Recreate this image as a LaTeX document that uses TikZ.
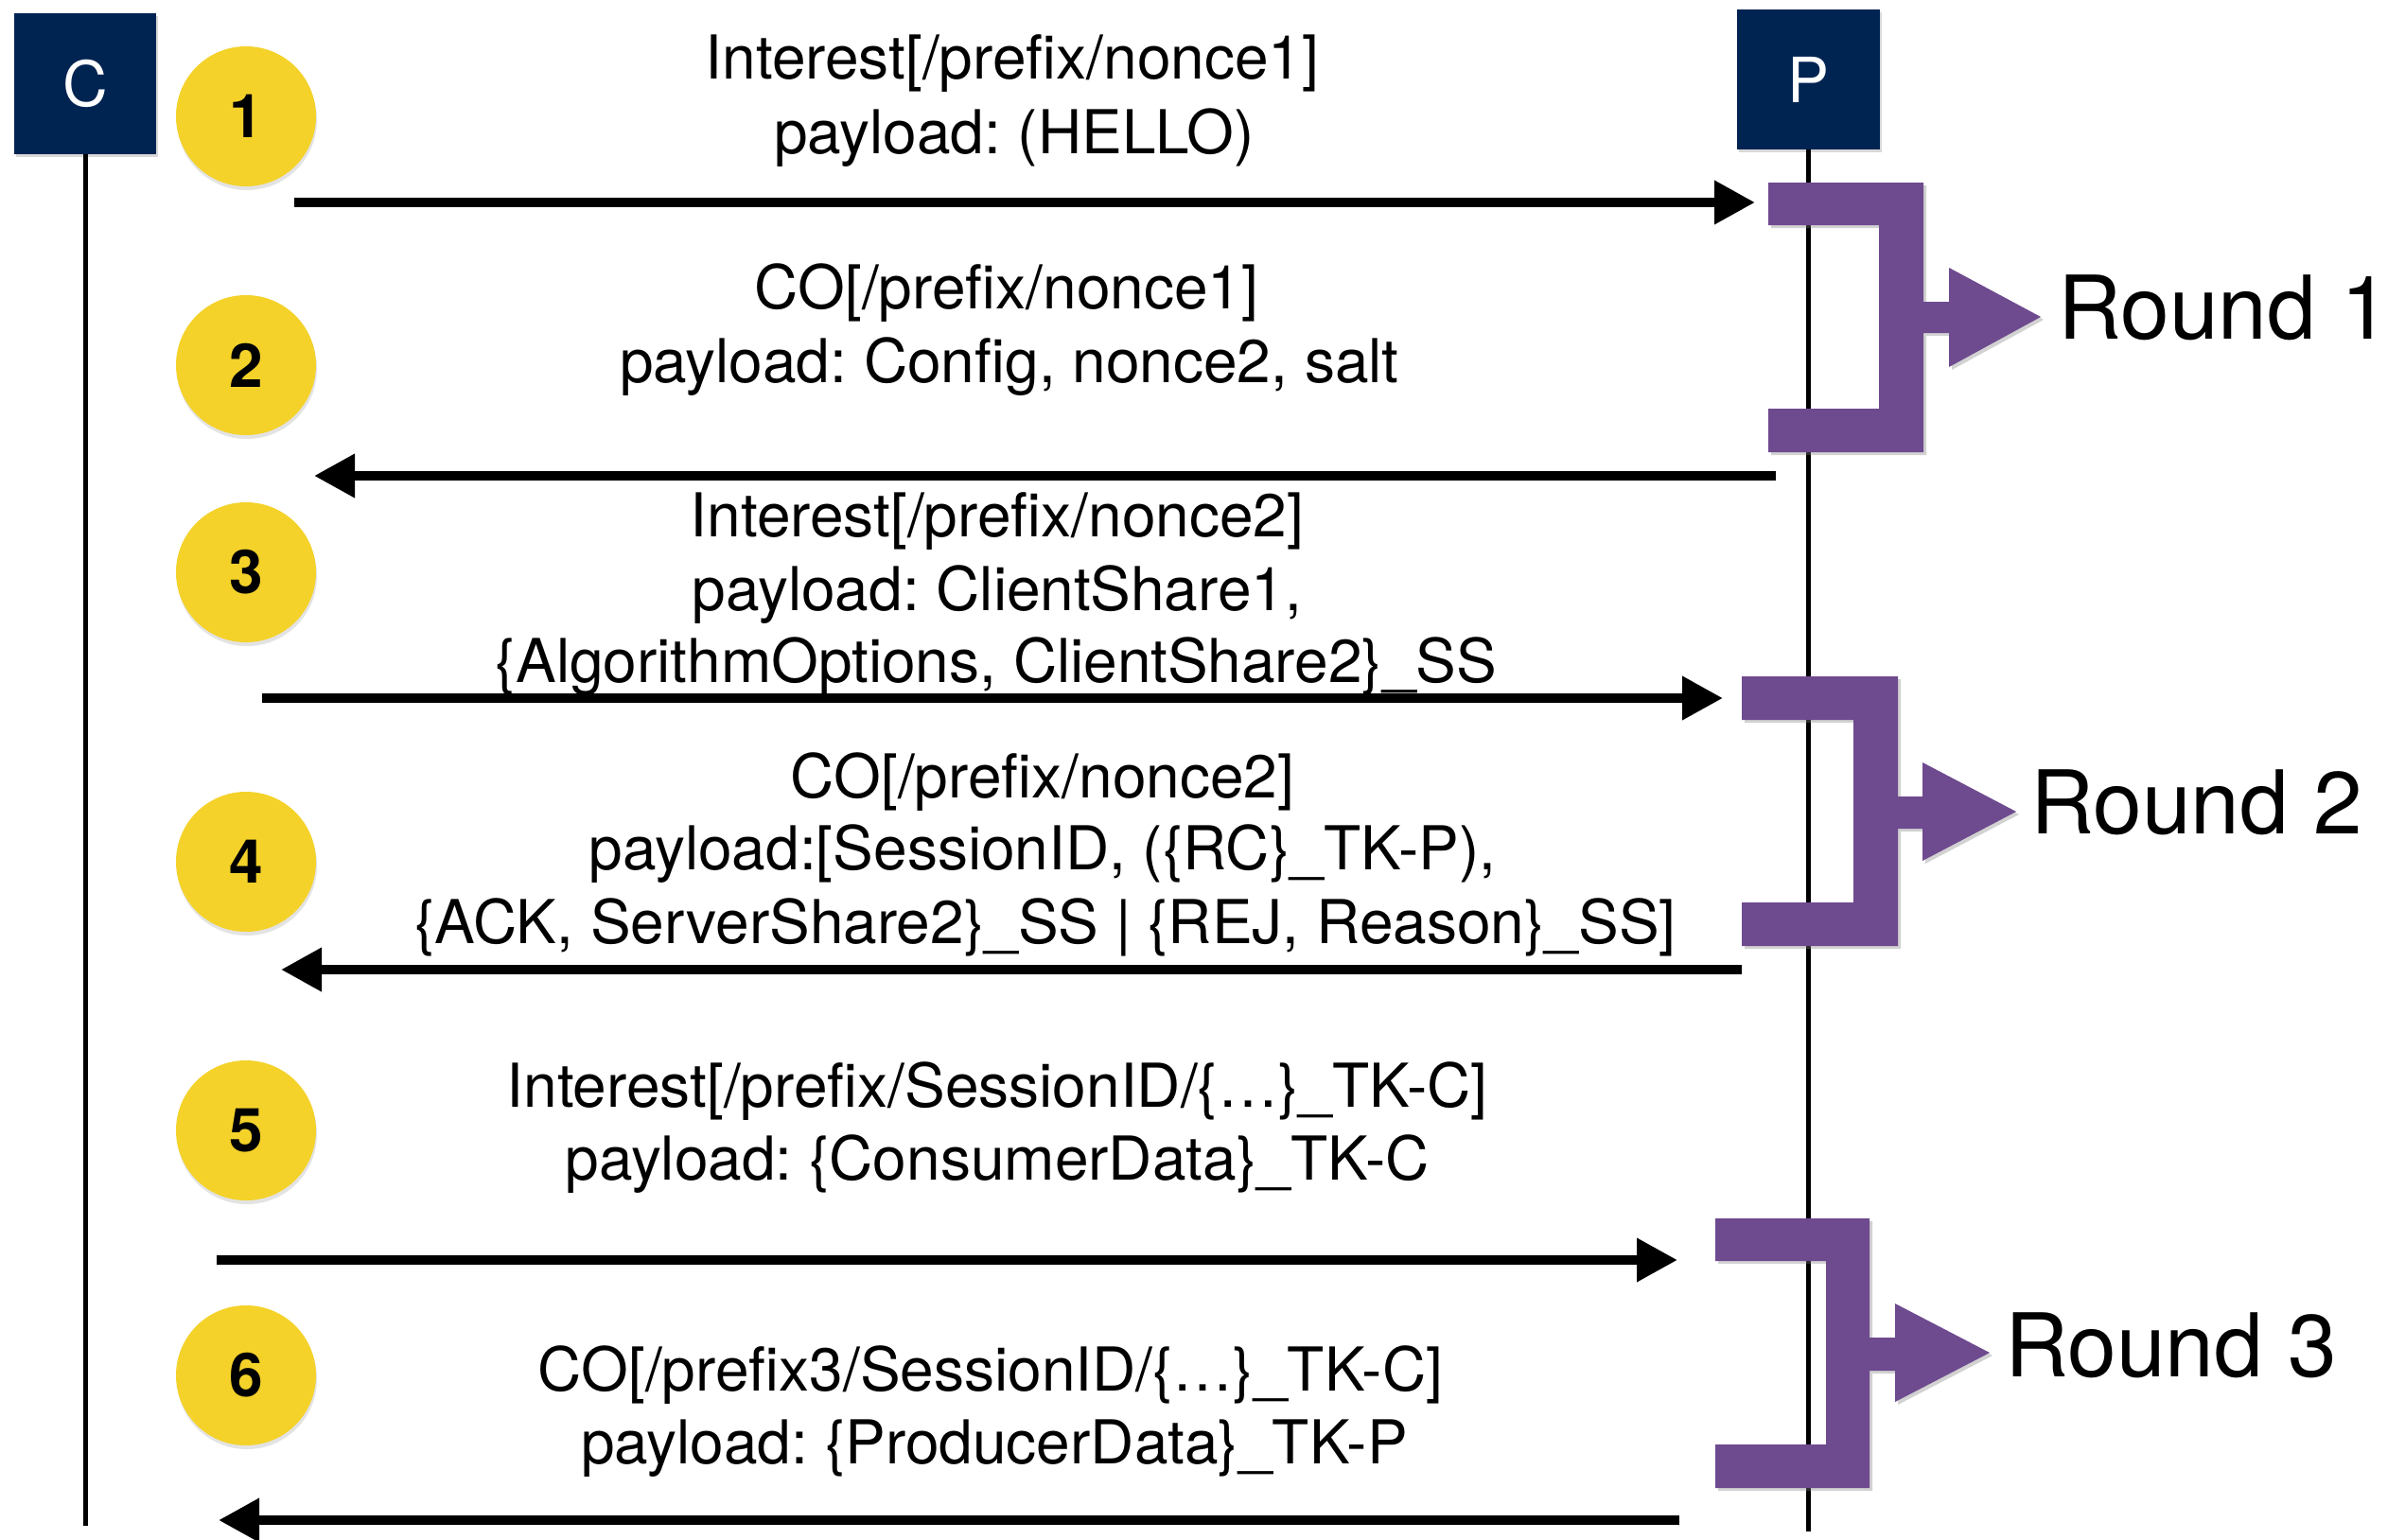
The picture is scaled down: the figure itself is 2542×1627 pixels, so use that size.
\documentclass[tikz,border=0pt]{standalone}
\usepackage{fontspec}
\setmainfont{TeX Gyre Heros}
\usetikzlibrary{arrows.meta,shadows}
\definecolor{navy}{RGB}{0,36,82}
\definecolor{gold}{RGB}{244,210,42}
\definecolor{grape}{RGB}{110,74,143}
\frenchspacing
\tikzset{
  actorbox/.style={rectangle, fill=navy, text=white, minimum width=150pt, minimum height=149pt, inner sep=0pt,
    font=\fontsize{66}{70}\selectfont,
    drop shadow={shadow xshift=2pt, shadow yshift=-3pt, opacity=0.3}},
  numdot/.style={circle, fill=gold, minimum size=148pt, inner sep=0pt,
    font=\fontsize{64}{70}\selectfont\bfseries,
    drop shadow={shadow xshift=1pt, shadow yshift=-4pt, opacity=0.22}},
  lifeline/.style={line width=5pt, black},
  msgline/.style={line width=10pt, black, -{Triangle[length=43pt,width=44pt]}},
  msgtext/.style={anchor=base, inner sep=0pt, font=\fontsize{64}{78}\selectfont},
  roundlbl/.style={anchor=base west, inner sep=0pt, font=\fontsize{93}{110}\selectfont},
  bracketfill/.style={fill=grape, drop shadow={shadow xshift=3pt, shadow yshift=-3pt, opacity=0.35}}
}
\begin{document}
\begin{tikzpicture}[x=1pt, y=-1pt]
\useasboundingbox (0,0) rectangle (2542,1627);
\fill[white] (0,0) rectangle (2542,1627);

% actors
\node[actorbox] (C) at (90,88.5) {C};
\node[actorbox, minimum width=151pt, minimum height=148pt] (P) at (1911,84) {P};

% lifelines
\coordinate (Cend) at (90,1613);
\coordinate (Pend) at (1911,1619);
\draw[lifeline] (C.south) -- (Cend);
\draw[lifeline] (P.south) -- (Pend);

% round brackets
\fill[bracketfill] (1869,193) -- (2033,193) -- (2033,319) -- (2060,319) -- (2060,283) -- (2157,335)
  -- (2060,388) -- (2060,352) -- (2033,352) -- (2033,478) -- (1869,478) -- (1869,432)
  -- (1986,432) -- (1986,238) -- (1869,238) -- cycle;
\fill[bracketfill] (1841,715) -- (2006,715) -- (2006,842) -- (2032,842) -- (2032,806) -- (2131,858)
  -- (2032,910) -- (2032,876) -- (2006,876) -- (2006,1000) -- (1841,1000) -- (1841,954)
  -- (1959,954) -- (1959,761) -- (1841,761) -- cycle;
\fill[bracketfill] (1813,1288) -- (1976,1288) -- (1976,1414) -- (2003,1414) -- (2003,1378) -- (2103,1430)
  -- (2003,1482) -- (2003,1449) -- (1976,1449) -- (1976,1573) -- (1813,1573) -- (1813,1527)
  -- (1930,1527) -- (1930,1333) -- (1813,1333) -- cycle;

\node[roundlbl] (r1) at (2175,358) {Round 1};
\node[roundlbl] (r2) at (2146,881) {Round 2};
\node[roundlbl] (r3) at (2119,1455) {Round 3};

% step circles
\node[numdot] (n1) at (260,123) {1};
\node[numdot] (n2) at (260,386) {2};
\node[numdot] (n3) at (260,605) {3};
\node[numdot] (n4) at (260,911) {4};
\node[numdot] (n5) at (260,1195) {5};
\node[numdot] (n6) at (260,1454) {6};

% message arrows
\coordinate (a1s) at (311,214);  \coordinate (a1e) at (1855,214);
\coordinate (a2s) at (1877,503); \coordinate (a2e) at (332,503);
\coordinate (a3s) at (277,738);  \coordinate (a3e) at (1821,738);
\coordinate (a4s) at (1841,1025); \coordinate (a4e) at (297,1025);
\coordinate (a5s) at (229,1332); \coordinate (a5e) at (1773,1332);
\coordinate (a6s) at (1775,1607); \coordinate (a6e) at (231,1607);
\draw[msgline] (a1s) -- (a1e);
\draw[msgline] (a2s) -- (a2e);
\draw[msgline] (a3s) -- (a3e);
\draw[msgline] (a4s) -- (a4e);
\draw[msgline] (a5s) -- (a5e);
\draw[msgline] (a6s) -- (a6e);

% message texts
\node[msgtext] (t1a) at (1070,84) {Interest[/prefix/nonce1]};
\node[msgtext] (t1b) at (1072,162) {payload: (HELLO)};
\node[msgtext] (t2a) at (1064,326) {CO[/prefix/nonce1]};
\node[msgtext] (t2b) at (1067,404) {payload: Config, nonce2, salt};
\node[msgtext] (t3a) at (1054,567) {Interest[/prefix/nonce2]};
\node[msgtext] (t3b) at (1054,645) {payload: ClientShare1,};
\node[msgtext] (t3c) at (1053,721) {\{AlgorithmOptions, ClientShare2\}\_SS};
\node[msgtext] (t4a) at (1102,843) {CO[/prefix/nonce2]};
\node[msgtext] (t4b) at (1102,919) {payload:[SessionID, (\{RC\}\_TK-P),};
\node[msgtext] (t4c) at (1105,997) {\{ACK, ServerShare2\}\_SS \textbar{} \{REJ, Reason\}\_SS]};
\node[msgtext] (t5a) at (1054,1170) {Interest[/prefix/SessionID/\{…\}\_TK-C]};
\node[msgtext] (t5b) at (1054,1247) {payload: \{ConsumerData\}\_TK-C};
\node[msgtext] (t6a) at (1047,1470) {CO[/prefix3/SessionID/\{…\}\_TK-C]};
\node[msgtext] (t6b) at (1051,1547) {payload: \{ProducerData\}\_TK-P};
\end{tikzpicture}
\end{document}
